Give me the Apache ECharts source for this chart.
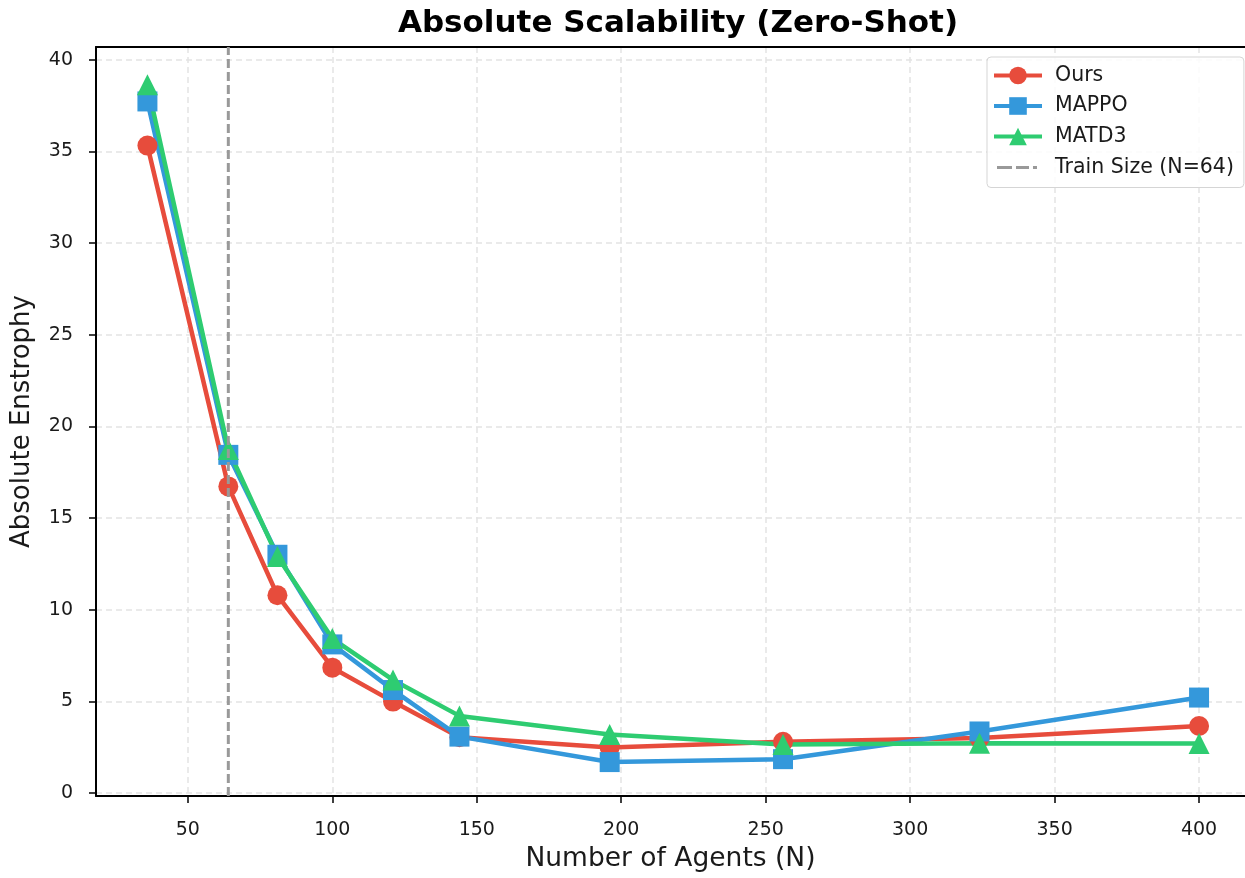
<!DOCTYPE html>
<html>
<head>
<meta charset="utf-8">
<script src="https://cdn.jsdelivr.net/npm/echarts@6/dist/echarts.min.js"></script>
<style>html,body{margin:0;padding:0;background:#fff;}#c{width:1245px;height:878px;}</style>
</head>
<body>
<div id="c"></div>
<script>
const agents = [36, 64, 81, 100, 121, 144, 196, 256, 324, 400];
const ours  = [35.32, 16.73, 10.79, 6.84, 4.99, 3.05, 2.49, 2.8, 3.0, 3.66];
const mappo = [37.73, 18.45, 13.0, 8.11, 5.62, 3.08, 1.69, 1.85, 3.36, 5.21];
const matd3 = [38.64, 18.74, 12.9, 8.43, 6.17, 4.21, 3.2, 2.65, 2.72, 2.7];
const trainSize = 64;
const xTicks = [50, 100, 150, 200, 250, 300, 350, 400];
const yTicks = [0, 5, 10, 15, 20, 25, 30, 35, 40];

const FONT = 'DejaVu Sans';
const pairs = arr => agents.map((x, i) => [x, arr[i]]);
const XMIN = 18.2, XMAX = 415.9, YMIN = -0.16, YMAX = 40.7;
const dashIcon = 'path://M0,0h0.01v0.01h-0.01z M48,22h0.01v0.01h-0.01z M3,9.5h15v3h-15z M22,9.5h13v3h-13z M39,9.5h4v3h-4z';

const chart = echarts.init(document.getElementById('c'), null, {renderer: 'canvas'});
function lineSeries(name, data, color, symbol, size) {
  return {
    name, type: 'line', data: pairs(data), xAxisIndex: 0, yAxisIndex: 0,
    symbol, symbolSize: size, showSymbol: true,
    lineStyle: {color, width: 4.5},
    itemStyle: {color},
    emphasis: {disabled: true}, animation: false, z: 3
  };
}
chart.setOption({
  animation: false,
  backgroundColor: '#fff',
  title: {
    text: 'Absolute Scalability (Zero-Shot)', left: 673, textAlign: 'center', top: 3,
    textStyle: {fontFamily: FONT, fontWeight: 'bold', fontSize: 31, color: '#000'}
  },
  grid: {left: 96, right: 0, top: 47, bottom: 80, containLabel: false},
  legend: {
    orient: 'vertical', left: 987, top: 57,
    backgroundColor: 'rgba(255,255,255,0.85)', borderColor: '#d5d5d5', borderWidth: 1, borderRadius: 4,
    padding: [8, 10, 9, 5], itemWidth: 48, itemHeight: 22, itemGap: 9.5,
    lineStyle: {width: 4},
    textStyle: {fontFamily: FONT, fontSize: 20.5, color: '#1a1a1a', padding: [0, 0, 0, 8]},
    data: ['Ours', 'MAPPO', 'MATD3',
      {name: 'Train Size (N=64)', icon: dashIcon, itemStyle: {color: '#999999'}}]
  },
  xAxis: [{
    type: 'value', min: XMIN, max: XMAX, position: 'bottom',
    name: 'Number of Agents (N)', nameLocation: 'middle', nameGap: 50,
    nameTextStyle: {fontFamily: FONT, fontSize: 26.5, color: '#1a1a1a'},
    axisLine: {show: true, onZero: false, lineStyle: {color: '#000', width: 2}},
    axisTick: {show: true, length: 7, lineStyle: {color: '#000', width: 1.5}, customValues: xTicks},
    axisLabel: {fontFamily: FONT, fontSize: 19, color: '#1a1a1a', margin: 25, customValues: xTicks},
    splitLine: {show: true, lineStyle: {color: '#e3e3e3', width: 1.5, type: [6, 4]}}
  }, {
    type: 'value', min: XMIN, max: XMAX, position: 'top',
    axisLine: {show: true, onZero: false, lineStyle: {color: '#000', width: 2}},
    axisTick: {show: false}, axisLabel: {show: false}, splitLine: {show: false}
  }],
  yAxis: [{
    type: 'value', min: YMIN, max: YMAX,
    name: 'Absolute Enstrophy', nameLocation: 'middle', nameGap: 61, nameRotate: 90,
    nameTextStyle: {fontFamily: FONT, fontSize: 26, color: '#1a1a1a'},
    axisLine: {show: true, onZero: false, lineStyle: {color: '#000', width: 2}},
    axisTick: {show: true, length: 7, lineStyle: {color: '#000', width: 1.5}, customValues: yTicks},
    axisLabel: {fontFamily: FONT, fontSize: 19, color: '#1a1a1a', margin: 23, customValues: yTicks},
    splitLine: {show: true, lineStyle: {color: '#e3e3e3', width: 1.5, type: [6, 4]}}
  }],
  series: [
    lineSeries('Ours', ours, '#e74c3c', 'circle', 20),
    lineSeries('MAPPO', mappo, '#3498db', 'rect', 20),
    lineSeries('MATD3', matd3, '#2ecc71', 'triangle', 21),
    {
      name: 'Train Size (N=64)', type: 'line', data: [[trainSize, YMIN], [trainSize, YMAX]],
      symbol: 'none', lineStyle: {color: '#999999', width: 3, type: [9, 4]},
      itemStyle: {color: '#999999'}, emphasis: {disabled: true}, z: 4, silent: true
    }
  ]
});
</script>
</body>
</html>
